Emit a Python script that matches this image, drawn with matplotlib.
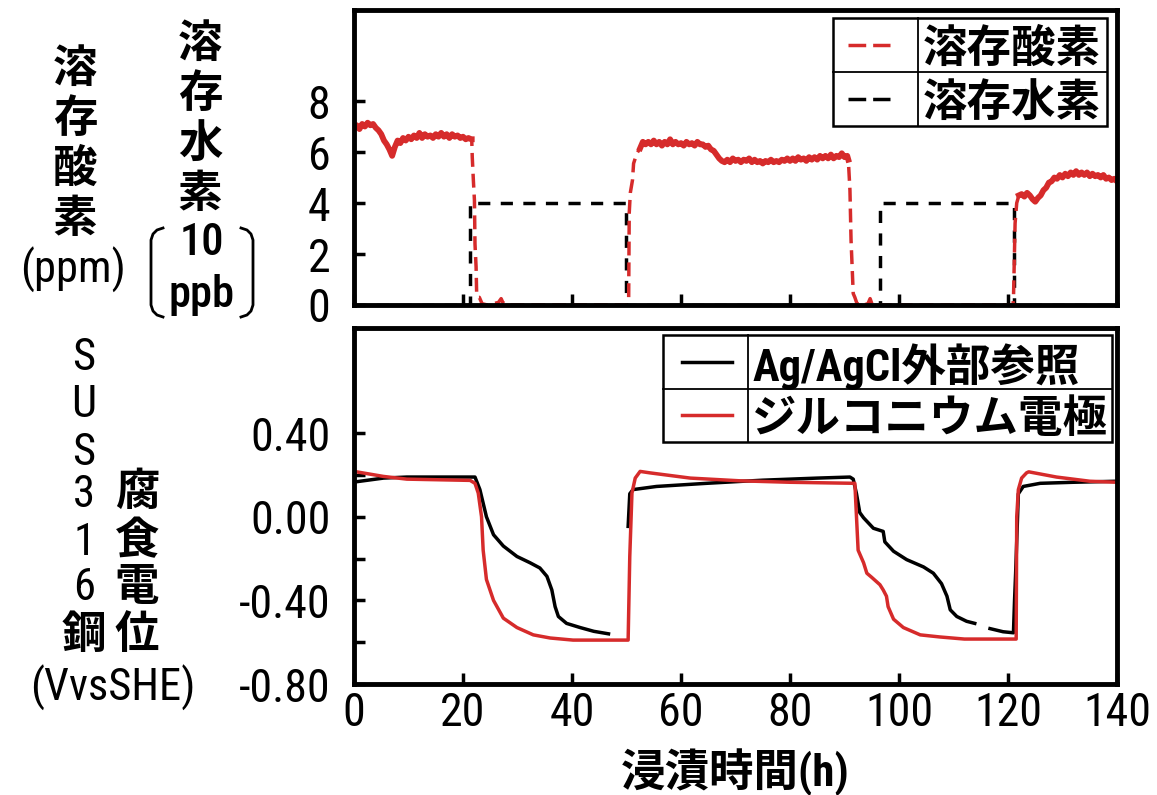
import numpy as np
import matplotlib
matplotlib.use('Agg')
import matplotlib.pyplot as plt
from matplotlib import font_manager as fm
from matplotlib.lines import Line2D
from matplotlib.patches import Rectangle


def pick_narrow_font():
    """数字用に細身 (Narrow / Condensed) の書体を探す"""
    names = {f.name for f in fm.fontManager.ttflist}
    for name in ('Liberation Sans Narrow', 'Roboto Condensed', 'Open Sans Condensed',
                 'Noto Sans Condensed', 'DejaVu Sans Condensed'):
        if name in names:
            return name, 'normal'
    for pref in ('condensed', 'semi-condensed'):
        for fam in ('DejaVu Sans', 'Noto Sans', 'Roboto', 'Open Sans', 'Liberation Sans'):
            for f in fm.fontManager.ttflist:
                if f.name == fam and str(f.stretch) == pref:
                    return fam, pref
    return 'Noto Sans CJK JP', 'normal'


NUM_FAMILY, NUM_STRETCH = pick_narrow_font()
# 数字は細身のフォント、漢字・かなは Noto Sans CJK JP
plt.rcParams['font.family'] = [NUM_FAMILY, 'Noto Sans CJK JP', 'DejaVu Sans']
plt.rcParams['font.stretch'] = NUM_STRETCH

RED = '#d62b2b'

# ---- 溶存酸素 (ppm) : 定常区間は 0.5 h 刻み ----
do_step = 0.5
do_seg1_start = 0.0
do_seg1 = [6.95, 7.05, 6.9, 7.1, 7.0, 7.15, 7.05, 7.1, 6.95, 6.85, 6.7, 6.45,
           6.3, 6.1, 5.85, 6.2, 6.45, 6.35, 6.55, 6.45, 6.6, 6.5, 6.65, 6.55,
           6.75, 6.55, 6.7, 6.6, 6.65, 6.55, 6.7, 6.6, 6.75, 6.6, 6.7, 6.55,
           6.7, 6.6, 6.65, 6.55, 6.6, 6.5, 6.55, 6.5]
do_fall1_t = [21.6, 21.7, 21.9, 22.1, 22.2, 22.4, 22.5, 22.7, 23.0, 23.5, 24.5,
              25.0, 25.5, 26.5, 27.0, 27.3, 28.0, 35.0, 45.0, 50.2, 50.4, 50.5,
              50.7, 51.1, 51.3, 51.9]
do_fall1_v = [6.5, 5.8, 4.9, 4.1, 2.4, 1.5, 0.5, 0.3, 0.3, 0.05, 0.0,
              0.05, 0.05, 0.1, 0.25, 0.1, 0.0, 0.0, 0.0, 0.0, 0.3, 3.6,
              4.4, 4.9, 5.55, 5.95]
do_seg2_start = 52.5
do_seg2 = [6.15, 6.4, 6.3, 6.4, 6.3, 6.45, 6.3, 6.4, 6.25, 6.4, 6.3, 6.5,
           6.3, 6.4, 6.3, 6.35, 6.25, 6.4, 6.3, 6.35, 6.25, 6.4, 6.3, 6.3,
           6.2, 6.25, 6.1, 6.05, 5.9, 5.75, 5.65, 5.6, 5.7, 5.6, 5.75, 5.65,
           5.7, 5.6, 5.7, 5.65, 5.75, 5.6, 5.7, 5.6, 5.65, 5.55, 5.65, 5.6,
           5.7, 5.6, 5.65, 5.6, 5.7, 5.65, 5.75, 5.65, 5.75, 5.65, 5.8, 5.7,
           5.75, 5.65, 5.8, 5.7, 5.8, 5.7, 5.85, 5.75, 5.85, 5.75, 5.9, 5.75,
           5.85, 5.8, 5.95, 5.8, 5.85]
do_fall2_t = [90.7, 91.0, 91.2, 91.6, 91.9, 92.3, 93.5, 94.3, 94.7, 95.1, 96.0,
              105.0, 120.9, 121.0, 121.3, 121.6]
do_fall2_v = [5.7, 4.5, 2.55, 0.45, 0.3, 0.05, 0.0, 0.05, 0.25, 0.0, 0.0,
              0.0, 0.0, 0.2, 3.2, 4.0]
do_seg3_start = 122.0
do_seg3 = [4.3, 4.35, 4.25, 4.4, 4.3, 4.15, 4.05, 4.2, 4.3, 4.5, 4.6, 4.8,
           4.85, 5.0, 4.95, 5.1, 5.0, 5.15, 5.05, 5.2, 5.1, 5.25, 5.1, 5.2,
           5.1, 5.2, 5.05, 5.15, 5.05, 5.1, 5.0, 5.1, 4.95, 5.0, 4.9, 4.95, 4.85]
do_steady = [(0.0, 21.6), (52.4, 90.7), (121.9, 140.1)]

# ---- 溶存水素 (10 ppb) ----
h2_t = [0, 21.2, 21.2, 49.9, 49.9, 96.5, 96.5, 121.1, 121.1, 140]
h2_v = [0, 0, 4, 4, 0, 0, 4, 4, 0, 0]

# ---- 腐食電位 (V vs SHE) ----
ref_t = [0, 5.4, 9.7, 17.6, 22.2, 23.1, 24.3, 25.6, 27.4, 29.9, 32.3, 34.1,
         35.4, 36.3, 36.9, 37.5, 39.0, 41.5, 44.0, 46.7, np.nan, 50.3, 50.6,
         51.2, 55.5, 64.7, 70.8, 75, 80, 85, 91.0, 91.6, 92.2, 92.8, 93.5,
         95.3, 97.1, 97.4, 99.0, 101.4, 104.5, 106.3, 107.8, 108.8, 109.4,
         110.6, 112.4, 113.9, np.nan, 116.7, 119.1, 121.0, 121.2, 121.4,
         121.9, 122.8, 125.9, 132, 140]
ref_v = [0.166, 0.185, 0.19, 0.19, 0.19, 0.13, 0.0, -0.086, -0.14, -0.19,
         -0.22, -0.245, -0.285, -0.35, -0.43, -0.477, -0.51, -0.53, -0.548,
         -0.56, np.nan, -0.046, 0.11, 0.13, 0.145, 0.16, 0.169, 0.175, 0.18,
         0.185, 0.19, 0.18, 0.11, 0.02, -0.005, -0.055, -0.07, -0.12, -0.165,
         -0.205, -0.24, -0.27, -0.32, -0.38, -0.445, -0.477, -0.50, -0.51,
         np.nan, -0.535, -0.55, -0.555, -0.40, -0.27, 0.11, 0.145, 0.16,
         0.165, 0.17]
zr_t = [0, 5.4, 9.7, 21.3, 22.2, 22.8, 23.4, 23.7, 24.3, 25.6, 27.4, 29.9,
        32.9, 36.0, 40.2, 50.3, 50.6, 51.0, 51.6, 52.5, 54.3, 61.7, 70.8, 80,
        91.9, 92.2, 92.5, 93.5, 94.1, 95.0, 96.5, 97.1, 97.7, 98.0, 99.0,
        100.8, 103.9, 107.5, 112, 121.5, 121.6, 121.9, 122.5, 123.4, 123.8,
        128.9, 135.0, 140]
zr_v = [0.217, 0.193, 0.18, 0.174, 0.16, 0.113, 0.0, -0.16, -0.30, -0.40,
        -0.485, -0.53, -0.565, -0.58, -0.59, -0.59, -0.19, 0.113, 0.185, 0.217,
        0.21, 0.185, 0.172, 0.165, 0.16, 0.0, -0.16, -0.22, -0.27, -0.29,
        -0.325, -0.35, -0.38, -0.43, -0.49, -0.53, -0.565, -0.575, -0.585,
        -0.585, 0.0, 0.13, 0.185, 0.21, 0.215, 0.19, 0.17, 0.165]

x_ticks = [0, 20, 40, 60, 80, 100, 120, 140]
do_ticks = [0, 2, 4, 6, 8]
pot_ticks = [-0.8, -0.4, 0.0, 0.4]
pot_minor = [-0.6, -0.2, 0.2]

W, H = 1157, 795
fig = plt.figure(figsize=(W / 100, H / 100), dpi=100)


def fx(px):
    return px / W


def fy(py):
    return 1 - py / H


ax1 = fig.add_axes([fx(354), fy(305), fx(1117) - fx(354), fy(10) - fy(305)])
ax2 = fig.add_axes([fx(354), fy(684), fx(1117) - fx(354), fy(328) - fy(684)])

# 溶存酸素: 全体を破線で描き、定常区間は実線で重ねる
seg_t = lambda start, vals: start + do_step * np.arange(len(vals))
do_t = np.concatenate([seg_t(do_seg1_start, do_seg1), do_fall1_t,
                       seg_t(do_seg2_start, do_seg2), do_fall2_t,
                       seg_t(do_seg3_start, do_seg3)])
do_v = np.concatenate([do_seg1, do_fall1_v, do_seg2, do_fall2_v, do_seg3])

ax1.plot(h2_t, h2_v, color='black', lw=2.5, dashes=(3.5, 3))
ax1.plot(do_t, do_v, color=RED, lw=2.5, dashes=(4, 2))
for a, b in do_steady:
    m = (do_t >= a) & (do_t <= b)
    ax1.plot(do_t[m], do_v[m], color=RED, lw=4.2)

ax2.plot(ref_t, ref_v, color='black', lw=2.5)
ax2.plot(zr_t, zr_v, color=RED, lw=2.5)

ax1.set_xlim(0, 140)
ax1.set_ylim(0, 11.57)
ax1.set_xticks(x_ticks)
ax1.set_xticklabels([])
ax1.set_yticks(do_ticks)

ax2.set_xlim(0, 140)
ax2.set_ylim(-0.8, 0.903)
ax2.set_xticks(x_ticks)
ax2.set_yticks(pot_ticks)
ax2.set_yticks(pot_minor, minor=True)
ax2.set_yticklabels([f'{v:.2f}' for v in pot_ticks])

for ax in (ax1, ax2):
    for s in ax.spines.values():
        s.set_linewidth(3.5)
    ax.tick_params(which='both', direction='in', length=8, width=2.5,
                   top=False, right=False, labelsize=33)
    ax.tick_params(axis='y', pad=17)
    ax.tick_params(axis='x', pad=5)


def table_legend(ax, styles, labels, box, xdiv, hx, fontsize):
    """罫線付きの凡例 (軸座標で配置)"""
    x0, y0, x1, y1 = box
    tr = ax.transAxes
    ax.add_patch(Rectangle((x0, y0), x1 - x0, y1 - y0, transform=tr,
                           fc='white', ec='black', lw=1.8, zorder=5, clip_on=False))
    ax.add_line(Line2D([xdiv, xdiv], [y0, y1], transform=tr, color='black',
                       lw=1.3, zorder=6))
    rowh = (y1 - y0) / len(labels)
    for i in range(1, len(labels)):
        ax.add_line(Line2D([x0, x1], [y1 - i * rowh] * 2, transform=tr,
                           color='black', lw=1.3, zorder=6))
    for i, (st, lab) in enumerate(zip(styles, labels)):
        yc = y1 - (i + 0.5) * rowh
        ax.add_line(Line2D(hx, [yc, yc], transform=tr, zorder=7, **st))
        ax.text(xdiv + 0.006, yc, lab, transform=tr, ha='left', va='center_baseline',
                fontsize=fontsize, fontweight='bold', zorder=7)


table_legend(ax1,
             [dict(color=RED, lw=2.5, dashes=(5.1, 2)),
              dict(color='black', lw=2.5, dashes=(5.1, 2))],
             ['溶存酸素', '溶存水素'],
             (0.628, 0.607, 0.987, 0.973), 0.739, [0.647, 0.703], 32)
table_legend(ax2,
             [dict(color='black', lw=2.5), dict(color=RED, lw=2.5)],
             ['Ag/AgCl外部参照', 'ジルコニウム電極'],
             (0.405, 0.680, 0.993, 0.980), 0.516, [0.430, 0.495], 32)

# 縦書きの軸ラベル
for ch, py in zip('溶存酸素', [70, 120, 170, 220]):
    fig.text(fx(75), fy(py), ch, ha='center', va='center', fontsize=32, fontweight='bold')
fig.text(fx(73), fy(270), '(ppm)', ha='center', va='center', fontsize=32)

for ch, py in zip('溶存水素', [45, 95, 145, 195]):
    fig.text(fx(200), fy(py), ch, ha='center', va='center', fontsize=32, fontweight='bold')
fig.text(fx(202), fy(243), '10', ha='center', va='center', fontsize=32, fontweight='medium')
fig.text(fx(202), fy(295), 'ppb', ha='center', va='center', fontsize=32, fontweight='medium')

# 「10 ppb」を囲む括弧
bx_l = [163, 157, 153, 151, 151, 153, 157, 163]
bx_r = [241, 247, 251, 253, 253, 251, 247, 241]
by = [228, 230, 234, 240, 305, 311, 315, 317]
for bx in (bx_l, bx_r):
    fig.add_artist(Line2D([fx(v) for v in bx], [fy(v) for v in by],
                          transform=fig.transFigure, color='black', lw=2))

for ch, py in zip('SUS316', [358, 405, 453, 495, 543, 588]):
    fig.text(fx(84), fy(py), ch, ha='center', va='center', fontsize=32)
fig.text(fx(84), fy(636), '鋼', ha='center', va='center', fontsize=32, fontweight='bold')
fig.text(fx(113), fy(688), '(VvsSHE)', ha='center', va='center', fontsize=32)
for ch, py in zip('腐食電位', [493, 542, 588, 636]):
    fig.text(fx(137), fy(py), ch, ha='center', va='center', fontsize=32, fontweight='bold')

fig.text(fx(735), fy(772), '浸漬時間(h)', ha='center', va='center', fontsize=32,
         fontweight='bold')

fig.savefig('out.png', dpi=100)
